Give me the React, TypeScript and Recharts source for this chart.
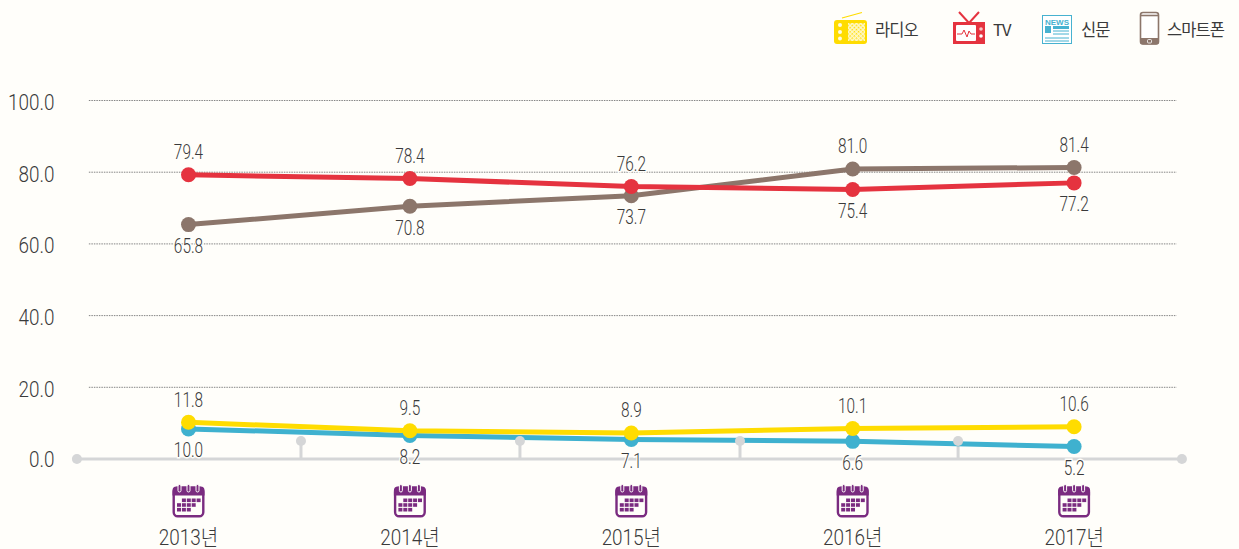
import React from "react";
import { ComposedChart, Line, XAxis, YAxis, ReferenceLine, ReferenceDot, LabelList } from "recharts";

const years = [2013, 2014, 2015, 2016, 2017];
const radio = [11.8, 9.5, 8.9, 10.1, 10.6];
const tv = [79.4, 78.4, 76.2, 75.4, 77.2];
const newspaper = [10.0, 8.2, 7.1, 6.6, 5.2];
const smartphone = [65.8, 70.8, 73.7, 81.0, 81.4];
const yTicks = [0, 20, 40, 60, 80, 100];
const midMarks = [2013.508, 2014.497, 2015.491, 2016.476];
const axisEnds = [2012.496, 2017.487];

const rows = years.map((year, i) => ({
  year,
  radio: radio[i],
  tv: tv[i],
  newspaper: newspaper[i],
  smartphone: smartphone[i],
}));

const BG = "#fffefa";
const FONT = "Roboto, 'Noto Sans CJK KR', sans-serif";
const TEXT = "#3a3a3a";
const GREY = "#d5d6d7";
const COLORS = { radio: "#ffdc00", tv: "#e5333f", newspaper: "#3fb1cf", smartphone: "#8c766b" };

const NarrowText = ({ x, y, size, squeeze, anchor = "middle", halo = false, children }: any) => (
  <text
    transform={`translate(${x} ${y}) scale(${squeeze} 1)`}
    textAnchor={anchor}
    dominantBaseline="central"
    fontFamily={FONT}
    fontWeight={300}
    fontSize={size}
    fill={TEXT}
    stroke={halo ? BG : "none"}
    strokeWidth={halo ? 3 : 0}
    paintOrder="stroke"
  >
    {children}
  </text>
);

const YTick = ({ y, payload }: any) => (
  <NarrowText x={54.5} y={y + (payload.value === 0 ? 0 : 2)} size={22.5} squeeze={0.84} anchor="end">
    {payload.value.toFixed(1)}
  </NarrowText>
);

const Calendar = ({ x, y }: { x: number; y: number }) => {
  const c = "#7a2b80";
  const cells: React.ReactNode[] = [];
  const rowsSpec = [
    [1, 4],
    [0, 4],
    [0, 3],
  ];
  rowsSpec.forEach(([start, n], r) => {
    for (let k = 0; k < n; k++) {
      cells.push(<rect key={`${r}-${k}`} x={x + 4.5 + (start + k) * 4.9} y={y + 14 + r * 4.7} width={4} height={3.6} fill={c} />);
    }
  });
  return (
    <g>
      <rect x={x + 1.2} y={y + 3.2} width={29.6} height={28.6} rx={4} fill={BG} stroke={c} strokeWidth={2.4} />
      <path d={`M${x} ${y + 11} V${y + 6} a4 4 0 0 1 4 -4 H${x + 28} a4 4 0 0 1 4 4 V${y + 11} Z`} fill={c} />
      {[7, 16, 25].map((d) => (
        <rect key={d} x={x + d - 1.5} y={y} width={3} height={7.5} rx={1.5} fill={c} stroke={BG} strokeWidth={1} />
      ))}
      {cells}
    </g>
  );
};

const XTick = ({ x, payload }: any) => (
  <g>
    <Calendar x={x - 16} y={484.5} />
    <NarrowText x={x} y={537} size={22} squeeze={0.86}>
      {`${payload.value}년`}
    </NarrowText>
  </g>
);

const makeLabel = (isAbove: (i: number) => boolean) => (props: any) => {
  const { x, y, value, index } = props;
  const above = isAbove(index);
  return (
    <NarrowText x={x} y={above ? y - 23 : y + 21} size={20} squeeze={0.77} halo>
      {value.toFixed(1)}
    </NarrowText>
  );
};

const RadioIcon = () => (
  <g>
    <defs>
      <pattern id="speaker" width={3} height={3} patternUnits="userSpaceOnUse" patternTransform="rotate(45 848 23)">
        <rect width={3} height={3} fill="#fff8c8" />
        <rect width={1.5} height={1.5} fill={COLORS.radio} />
      </pattern>
    </defs>
    <line x1={842} y1={18} x2={862} y2={12.5} stroke={COLORS.radio} strokeWidth={1.2} />
    <rect x={834} y={20} width={33} height={24} rx={3} fill={COLORS.radio} />
    <rect x={848} y={23} width={17} height={18} fill="url(#speaker)" />
    {[25, 32, 38.5].map((cy) => (
      <circle key={cy} cx={840} cy={cy} r={2} fill="#fffbe0" />
    ))}
  </g>
);

const TvIcon = () => (
  <g>
    <path d="M959 12 L969 23 L979 12" fill="none" stroke={COLORS.tv} strokeWidth={2} />
    <rect x={953} y={22} width={32} height={22} fill={COLORS.tv} />
    <rect x={956} y={25} width={20} height={16} rx={1} fill="#fff" />
    <path d="M957 34 H962 L964 30 L967 37 L969 31 L971 34 H975" fill="none" stroke={COLORS.tv} strokeWidth={1} />
    <circle cx={981} cy={29} r={1.8} fill="#f7c5c5" />
    <circle cx={981} cy={36} r={1.8} fill="#fff" />
  </g>
);

const NewsIcon = () => {
  const c = "#47b2d0";
  return (
    <g>
      <rect x={1042.5} y={15.5} width={29} height={28} fill="#fff" stroke={c} strokeWidth={1} />
      <text x={1057} y={24.5} textAnchor="middle" fontFamily="'Liberation Sans', sans-serif" fontWeight={700} fontSize={8} fill={c}>
        NEWS
      </text>
      <rect x={1045} y={26} width={6} height={7} fill={c} />
      <rect x={1053} y={26} width={16} height={3} fill={c} />
      {[31, 34, 38, 41].map((ly) => (
        <line key={ly} x1={ly < 35 ? 1053 : 1045} x2={1069} y1={ly} y2={ly} stroke={c} strokeWidth={1} />
      ))}
    </g>
  );
};

const PhoneIcon = () => {
  const c = "#8c766b";
  return (
    <g>
      <rect x={1140.5} y={12.5} width={18} height={31.5} rx={2.5} fill="#fff" stroke={c} strokeWidth={1.6} />
      <path d={`M1140 38 H1159 V41.5 a3 3 0 0 1 -3 3 H1143 a3 3 0 0 1 -3 -3 Z`} fill={c} />
      <rect x={1147.5} y={39.5} width={4} height={3.5} rx={1} fill="none" stroke="#fff" strokeWidth={0.8} />
      <line x1={1141} x2={1158} y1={15.5} y2={15.5} stroke={c} strokeWidth={1.6} />
    </g>
  );
};

const legendItems = [
  { name: "라디오", x: 875, Icon: RadioIcon },
  { name: "TV", x: 993, Icon: TvIcon },
  { name: "신문", x: 1081, Icon: NewsIcon },
  { name: "스마트폰", x: 1167, Icon: PhoneIcon },
];

const LegendOverlay = () => (
  <svg width={1239} height={60} style={{ display: "block", position: "absolute", left: 0, top: 0 }}>
    {legendItems.map(({ name, x, Icon }) => (
      <g key={name}>
        <Icon />
        <text x={x} y={28.5} dominantBaseline="central" fontFamily="'Noto Sans CJK KR', sans-serif" fontSize={16.5} letterSpacing={-0.9} fill={TEXT}>
          {name}
        </text>
      </g>
    ))}
  </svg>
);

export default function App() {
  const lineProps = (color: string) => ({
    yAxisId: "data",
    type: "linear" as const,
    stroke: color,
    strokeWidth: 5,
    dot: { r: 7.5, fill: color, stroke: "none" },
    activeDot: false,
    isAnimationActive: false,
  });
  return (
    <div style={{ position: "fixed", left: 0, top: 0, width: 1239, height: 549, background: BG, overflow: "hidden" }}>
      <ComposedChart width={1239} height={549} data={rows} margin={{ top: 100.5, right: 54.2, bottom: 0, left: 0 }}>
        <XAxis
          dataKey="year"
          type="number"
          domain={[2012.5, 2017.5]}
          ticks={years}
          height={90}
          axisLine={false}
          tickLine={false}
          tick={<XTick />}
          interval={0}
        />
        <YAxis
          yAxisId="grid"
          domain={[0, 100]}
          ticks={yTicks}
          width={77.8}
          axisLine={false}
          tickLine={false}
          tick={<YTick />}
        />
        <YAxis yAxisId="data" hide domain={[1.78, 99.7]} allowDataOverflow />
        <Line yAxisId="grid" dataKey="smartphone" stroke="none" dot={false} activeDot={false} legendType="none" isAnimationActive={false} />
        {yTicks
          .filter((t) => t > 0)
          .map((t) => (
            <ReferenceLine
              key={t}
              yAxisId="grid"
              segment={[
                { x: 2012.55, y: t },
                { x: 2017.463, y: t },
              ]}
              stroke="#858585"
              strokeWidth={1}
              strokeDasharray="1.5 1"
            />
          ))}
        <ReferenceLine
          yAxisId="grid"
          ifOverflow="visible"
          segment={[
            { x: axisEnds[0], y: 0 },
            { x: axisEnds[1], y: 0 },
          ]}
          stroke={GREY}
          strokeWidth={3}
        />
        {axisEnds.map((x) => (
          <ReferenceDot key={x} yAxisId="grid" ifOverflow="visible" x={x} y={0} r={5} fill={GREY} stroke="none" />
        ))}
        {midMarks.map((x) => (
          <ReferenceLine
            key={`s${x}`}
            yAxisId="grid"
            ifOverflow="visible"
            segment={[
              { x, y: 0 },
              { x, y: 5 },
            ]}
            stroke={GREY}
            strokeWidth={3}
          />
        ))}
        {midMarks.map((x) => (
          <ReferenceDot key={`d${x}`} yAxisId="grid" ifOverflow="visible" x={x} y={5} r={5} fill={GREY} stroke="none" />
        ))}
        <Line dataKey="smartphone" {...lineProps(COLORS.smartphone)}>
          <LabelList dataKey="smartphone" content={makeLabel((i) => i >= 3)} />
        </Line>
        <Line dataKey="tv" {...lineProps(COLORS.tv)}>
          <LabelList dataKey="tv" content={makeLabel((i) => i < 3)} />
        </Line>
        <Line dataKey="newspaper" {...lineProps(COLORS.newspaper)}>
          <LabelList dataKey="newspaper" content={makeLabel(() => false)} />
        </Line>
        <Line dataKey="radio" {...lineProps(COLORS.radio)}>
          <LabelList dataKey="radio" content={makeLabel(() => true)} />
        </Line>
      </ComposedChart>
      <LegendOverlay />
    </div>
  );
}
